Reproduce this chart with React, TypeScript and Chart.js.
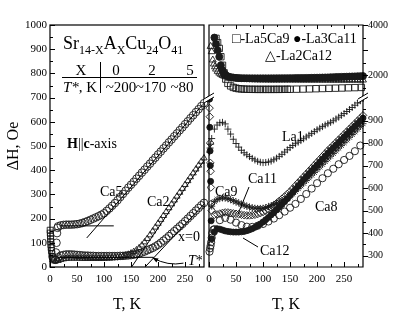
import React, { useEffect, useRef } from 'react';
import { Chart, registerables } from 'chart.js';

Chart.register(...registerables);

const FONT = '"Liberation Serif", "Times New Roman", Times, serif';
const INK = '#1a1a1a';

// ---------- shared temperature grid (K) ----------
const tGrid = [5,10,15,20,25,30,35,40,45,50,55,60,65,70,75,80,85,90,95,100,105,110,115,120,125,130,135,140,145,150,155,160,165,170,175,180,185,190,195,200,205,210,215,220,225,230,235,240,245,250,255,260,265,270,275,280,285];

// ---------- axis ticks ----------
const xLabelTicks = [0, 50, 100, 150, 200, 250];
const xMinorTicks = [25, 75, 125, 175, 225, 275];
const leftYTicks = [0, 100, 200, 300, 400, 500, 600, 700, 800, 900, 1000];
const leftYMinor = [50, 150, 250, 350, 450, 550, 650, 750, 850, 950];
const rbYTicks = [300, 400, 500, 600, 700, 800, 900];
const rbYMinor = [350, 450, 550, 650, 750, 850, 950];
const rtYTicks = [2000, 4000];
const rtYMarks = [2000, 3000, 4000];
const rtYMinor = [1500, 2500, 3500];

// ---------- left panel: Sr14-xCaxCu24O41 ----------
const ca5LowT = [0.3, 0.6, 0.9, 1.2, 1.5, 1.8, 2.2, 2.7, 3.5, 5, 7];
const ca5LowV = [152, 140, 128, 116, 104, 92, 80, 68, 55, 42, 30];

const ca5T = [10,11,12,13,14,15,20,25,30,35,40,45,50,55,60,65,70,75,80,85,90,95,100,105,110,115,120,125,130,135,140,145,150,155,160,165,170,175,180,185,190,195,200,205,210,215,220,225,230,235,240,245,250,255,260,265,270,275,280,285];
const ca5V = [30,60,100,140,162,
  168,172,174,175,175,175,176,177,179,182,
  186,190,195,200,205,210,216,222,232,242,
  253,264,276,289,302,315,328,340,352,365,
  377,390,402,415,427,440,452,465,477,490,
  502,515,527,540,552,565,577,590,602,615,
  627,640,652,665,677];

const ca2V = [30,24,26,30,33,35,36,36,36,36,
  36,35,35,35,35,35,35,35,35,35,
  36,36,37,38,39,41,44,48,52,57,
  63,70,79,90,103,117,132,148,164,180,
  196,212,228,244,260,276,292,308,324,340,
  356,372,388,404,420,436,450];

const x0V = [40,30,40,47,50,52,52,52,51,50,
  49,48,47,47,46,46,45,45,45,45,
  45,45,45,45,45,46,46,47,48,49,
  51,53,56,60,64,69,74,79,85,92,
  100,109,118,128,138,148,158,168,178,189,
  200,211,222,233,244,255,265];

// fit lines (T, dH)
const fitCa5Flat = [[20, 170], [118, 170]];
const fitCa5 = [[68, 120], [283, 672]];
const fitLowFlat = [[15, 40], [192, 40]];
const fitCa2 = [[151, 0], [285, 440]];
const fitX0 = [[176, 0], [285, 260]];
const arrowTail = [247, 16];
const arrowCtrl = [218, 3];
const arrowTip = [190, 38];

// ---------- right panel, lower segment ----------
const la1LowT = [1, 2, 3];
const la1LowV = [760, 778, 795];
const la1V = [820,862,880,890,892,885,862,840,817,798,
  782,768,757,748,740,732,725,719,715,713,
  714,716,720,726,733,741,750,760,770,780,
  789,797,804,811,819,827,835,843,851,859,
  866,873,880,886,892,899,907,915,923,931,
  940,949,958,968,978,988,998];

const ca8T = [1,2,3,4,5,6,8,10,20,30,40,50,60,70,80,90,100,110,120,130,140,150,160,170,180,190,200,210,220,230,240,250,260,270,280];
const ca8V = [318,333,345,360,380,400,415,418,458,468,460,447,436,429,428,433,441,452,465,480,496,513,530,552,574,598,622,644,666,686,706,725,743,764,789];

const ca12LowT = [1, 1.5, 2, 2.5, 3, 4];
const ca12LowV = [995, 870, 765, 700, 630, 455];
const ca12V = [375,405,420,418,414,410,408,406,405,405,
  405,406,408,411,415,420,426,433,441,450,
  460,470,481,492,503,515,527,540,553,568,
  582,596,610,624,638,651,664,677,690,703,
  716,729,742,755,767,779,791,803,815,827,
  839,851,863,875,887,899,911];

const ca11LowT = [1, 1.5, 2, 2.5, 3, 3.5, 4];
const ca11LowV = [955, 917, 800, 712, 675, 603, 530];
const ca11V = [500,482,483,487,490,492,492,490,488,486,
  484,482,480,479,479,480,482,485,489,494,
  500,507,515,524,533,543,553,563,574,585,
  598,611,624,637,650,663,676,689,702,715,
  728,741,754,767,779,791,803,815,827,839,
  851,863,875,887,899,911,923];

const ca9V = [520,540,550,555,557,556,553,549,544,539,
  534,529,524,520,516,513,511,510,510,511,
  514,518,522,527,532,538,544,550,556,562,
  574,586,598,610,622,634,646,658,670,682,
  694,706,718,730,742,754,766,778,790,802,
  814,826,838,850,862,874,886];

// ---------- right panel, upper segment ----------
const la3ca11T = [10,13,16,19,22,25,28,31,35,40,45,50,55,60,65,70,75,80,85,90,95,100,105,110,115,120,125,130,135,140,145,150,155,160,165,170,175,180,185,190,195,200,205,210,215,220,225,230,235,240,245,250,255,260,265,270,275,280,285];
const la3ca11V = [3500,3250,3000,2740,2400,2200,2080,2010,
  1960,1930,1912,1900,1893,1888,1885,1883,1882,1881,
  1880,1880,1880,1880,1880,1880,1881,1882,1883,1884,
  1885,1886,1887,1888,1889,1890,1891,1892,1894,1896,
  1898,1900,1903,1906,1909,1912,1915,1918,1922,1926,
  1930,1934,1938,1942,1946,1950,1954,1958,1962,1966,
  1970];

const la2ca12T = [3,5,7,9,11,13,16,19,22,25,28,31,35,40,45,50,55,60,65,70,75,80,85,90,95,100,105,110,115,120,125,130,135,140,145,150,155,160,165,170,175,180,185,190,195,200,205,210,215,220,225,230,235,240,245,250,255,260,265,270,275,280,285];
const la2ca12V = [3150,2940,2610,2450,2340,2250,2160,2090,2040,2000,1970,1945,
  1920,1895,1875,1862,1852,1845,1840,1836,1833,1830,
  1828,1826,1824,1823,1822,1821,1820,1820,1820,1820,
  1820,1820,1820,1820,1820,1819,1819,1818,1818,1818,
  1818,1817,1817,1817,1817,1816,1816,1816,1816,1815,
  1815,1815,1815,1815,1815,1815,1815,1815,1815,1815,
  1815];

const la5ca9T = [13,16,19,22,25,28,31,35,40,45,50,55,60,65,70,75,80,85,90,95,100,105,110,115,120,125,130,135,140,145,150,162,174,186,198,210,222,234,246,258,270,282];
const la5ca9V = [3470,3300,3070,2740,2400,2100,1850,
  1680,1580,1520,1490,1470,1460,1452,1448,1445,1444,
  1443,1442,1442,1442,1442,1442,1442,1442,1443,1443,
  1444,1445,1446,1447,
  1451,1455,1461,1469,1476,1483,1490,1497,1505,1512,1519];

// ---------- helpers ----------
const pts = (t: number[], v: number[]) => t.map((x, i) => ({ x, y: v[i] }));
const pairs = (p: number[][]) => p.map(([x, y]) => ({ x, y }));

function markers(data: any[], style: string, radius: number, filled: boolean) {
  return {
    data,
    showLine: false,
    pointStyle: style,
    pointRadius: radius,
    pointHoverRadius: radius,
    pointBorderColor: INK,
    pointBackgroundColor: filled ? INK : 'rgba(0,0,0,0)',
    pointBorderWidth: 0.9,
    clip: false,
  };
}
function fitLine(data: any[]) {
  return { data, showLine: true, borderColor: '#000', borderWidth: 1, pointRadius: 0, pointHoverRadius: 0, clip: false, fill: false };
}

function rich(ctx: any, parts: [string, string][], x: number, y: number, size: number) {
  for (const [txt, kind] of parts) {
    const sz = kind === 's' ? Math.round(size * 0.66) : size;
    const style = kind === 'b' ? 'bold ' : kind === 'i' ? 'italic ' : '';
    ctx.font = `${style}${sz}px ${FONT}`;
    const dy = kind === 's' ? size * 0.25 : 0;
    ctx.fillText(txt, x, y + dy);
    x += ctx.measureText(txt).width;
  }
}

function tickSet(ctx: any, vals: number[], fn: (v: number) => number[]) {
  vals.forEach(v => {
    const [x1, y1, x2, y2] = fn(v);
    ctx.moveTo(x1, y1);
    ctx.lineTo(x2, y2);
  });
}

const crisp = (p: number) => Math.round(p) + 0.5;
const plain = (v: any) => String(v);

const tickFont = { family: FONT, size: 11 };
const titleFont = { family: FONT, size: 16 };

// ---------- decorations ----------
const leftDeco = {
  id: 'leftDeco',
  afterDraw(chart: any) {
    const { ctx, chartArea: a, scales } = chart;
    const x = scales.x, y = scales.y;
    ctx.save();
    ctx.strokeStyle = '#000';
    ctx.lineWidth = 1.2;
    ctx.strokeRect(a.left, a.top, a.right - a.left, a.bottom - a.top);
    ctx.lineWidth = 1;
    ctx.beginPath();
    tickSet(ctx, xLabelTicks, v => { const p = crisp(x.getPixelForValue(v)); return [p, a.bottom, p, a.bottom - 5]; });
    tickSet(ctx, xMinorTicks, v => { const p = crisp(x.getPixelForValue(v)); return [p, a.bottom, p, a.bottom - 3]; });
    tickSet(ctx, leftYTicks, v => { const p = crisp(y.getPixelForValue(v)); return [a.left, p, a.left + 5, p]; });
    tickSet(ctx, leftYMinor, v => { const p = crisp(y.getPixelForValue(v)); return [a.left, p, a.left + 3, p]; });
    ctx.stroke();

    ctx.fillStyle = '#000';
    ctx.textBaseline = 'alphabetic';
    ctx.textAlign = 'left';
    rich(ctx, [['Sr', 'n'], ['14-X', 's'], ['A', 'n'], ['X', 's'], ['Cu', 'n'], ['24', 's'], ['O', 'n'], ['41', 's']], 63, 49, 18);

    // table
    ctx.font = `15px ${FONT}`;
    ctx.textAlign = 'center';
    ctx.fillText('X', 81, 75);
    ctx.fillText('0', 116, 75);
    ctx.fillText('2', 152, 75);
    ctx.fillText('5', 190, 75);
    ctx.fillText('~200', 121, 92);
    ctx.fillText('~170', 151, 92);
    ctx.fillText('~80', 182, 92);
    ctx.textAlign = 'left';
    rich(ctx, [['T*', 'i'], [', K', 'n']], 63, 92, 15);
    ctx.beginPath();
    ctx.moveTo(62, 77.5); ctx.lineTo(197, 77.5);
    ctx.moveTo(100.5, 62); ctx.lineTo(100.5, 93);
    ctx.stroke();

    rich(ctx, [['H', 'b'], ['||', 'n'], ['c', 'b'], ['-axis', 'n']], 67, 148, 14);

    ctx.font = `14px ${FONT}`;
    ctx.fillText('Ca5', 100, 196);
    ctx.fillText('Ca2', 147, 206);
    ctx.fillText('x=0', 178, 241);
    rich(ctx, [['T', 'i'], ['*', 'n']], 188, 265, 14);

    // T* arrow
    const tx = x.getPixelForValue(arrowTail[0]), ty = y.getPixelForValue(arrowTail[1]);
    const cx = x.getPixelForValue(arrowCtrl[0]), cy = y.getPixelForValue(arrowCtrl[1]);
    const ex = x.getPixelForValue(arrowTip[0]), ey = y.getPixelForValue(arrowTip[1]);
    ctx.beginPath();
    ctx.moveTo(tx, ty);
    ctx.quadraticCurveTo(cx, cy, ex, ey);
    ctx.stroke();
    const ang = Math.atan2(ey - cy, ex - cx);
    ctx.beginPath();
    ctx.moveTo(ex, ey);
    ctx.lineTo(ex - 6 * Math.cos(ang - 0.4), ey - 6 * Math.sin(ang - 0.4));
    ctx.lineTo(ex - 6 * Math.cos(ang + 0.4), ey - 6 * Math.sin(ang + 0.4));
    ctx.closePath();
    ctx.fill();
    ctx.restore();
  },
};

const rtDeco = {
  id: 'rtDeco',
  afterDraw(chart: any) {
    const { ctx, chartArea: a, scales } = chart;
    const x = scales.x, y = scales.y;
    ctx.save();
    ctx.strokeStyle = '#000';
    ctx.lineWidth = 1.2;
    ctx.beginPath();
    ctx.moveTo(a.left, a.bottom); ctx.lineTo(a.left, a.top); ctx.lineTo(a.right, a.top); ctx.lineTo(a.right, a.bottom);
    ctx.stroke();
    ctx.lineWidth = 1;
    ctx.beginPath();
    tickSet(ctx, xLabelTicks.slice(1), v => { const p = crisp(x.getPixelForValue(v)); return [p, a.top, p, a.top + 4]; });
    tickSet(ctx, xMinorTicks, v => { const p = crisp(x.getPixelForValue(v)); return [p, a.top, p, a.top + 2]; });
    tickSet(ctx, rtYMarks, v => { const p = crisp(y.getPixelForValue(v)); return [a.right, p, a.right + 5, p]; });
    tickSet(ctx, rtYMinor, v => { const p = crisp(y.getPixelForValue(v)); return [a.right, p, a.right + 3, p]; });
    ctx.stroke();
    ctx.fillStyle = '#000';
    ctx.textAlign = 'left';
    ctx.textBaseline = 'alphabetic';
    ctx.font = `14px ${FONT}`;
    ctx.fillText('\u25A1-La5Ca9 \u25CF-La3Ca11', 232, 43);
    ctx.fillText('\u25B3-La2Ca12', 265, 60);
    ctx.restore();
  },
};

const rbDeco = {
  id: 'rbDeco',
  afterDraw(chart: any) {
    const { ctx, chartArea: a, scales } = chart;
    const x = scales.x, y = scales.y;
    ctx.save();
    ctx.strokeStyle = '#000';
    ctx.lineWidth = 1.2;
    ctx.beginPath();
    ctx.moveTo(a.left, a.top); ctx.lineTo(a.left, a.bottom); ctx.lineTo(a.right, a.bottom); ctx.lineTo(a.right, a.top);
    ctx.stroke();
    ctx.lineWidth = 1;
    ctx.beginPath();
    tickSet(ctx, xLabelTicks, v => { const p = crisp(x.getPixelForValue(v)); return [p, a.bottom, p, a.bottom - 5]; });
    tickSet(ctx, xMinorTicks, v => { const p = crisp(x.getPixelForValue(v)); return [p, a.bottom, p, a.bottom - 3]; });
    tickSet(ctx, rbYTicks, v => { const p = crisp(y.getPixelForValue(v)); return [a.right, p, a.right + 5, p]; });
    tickSet(ctx, rbYMinor, v => { const p = crisp(y.getPixelForValue(v)); return [a.right, p, a.right + 3, p]; });
    ctx.stroke();

    // axis breaks
    for (const bx of [a.left, a.right]) {
      const t = a.top;
      ctx.fillStyle = '#fff';
      ctx.beginPath();
      ctx.moveTo(bx - 5, t + 1); ctx.lineTo(bx + 5, t - 5); ctx.lineTo(bx + 5, t - 1); ctx.lineTo(bx - 5, t + 5);
      ctx.closePath();
      ctx.fill();
      ctx.beginPath();
      ctx.moveTo(bx - 5, t + 1); ctx.lineTo(bx + 5, t - 5);
      ctx.moveTo(bx - 5, t + 5); ctx.lineTo(bx + 5, t - 1);
      ctx.stroke();
    }

    ctx.fillStyle = '#000';
    ctx.textAlign = 'left';
    ctx.textBaseline = 'alphabetic';
    ctx.font = `14px ${FONT}`;
    ctx.fillText('La1', 282, 141);
    ctx.fillText('Ca9', 215, 196);
    ctx.fillText('Ca11', 248, 183);
    ctx.fillText('Ca12', 260, 255);
    ctx.fillText('Ca8', 315, 211);
    ctx.beginPath();
    ctx.moveTo(249, 187); ctx.lineTo(238, 214);
    ctx.moveTo(258, 247); ctx.lineTo(243, 238);
    ctx.stroke();
    ctx.restore();
  },
};

const baseOptions = {
  responsive: false,
  animation: false as const,
  devicePixelRatio: 1,
  events: [] as any[],
  plugins: { legend: { display: false }, tooltip: { enabled: false } },
};

function xScale(showLabels: boolean, height: number) {
  return {
    type: 'linear',
    min: 0,
    max: 285,
    display: true,
    afterBuildTicks: (s: any) => { s.ticks = xLabelTicks.map(value => ({ value })); },
    ticks: { display: showLabels, font: tickFont, color: '#000', padding: 6, maxRotation: 0, autoSkip: false, callback: plain },
    grid: { display: false, drawTicks: false },
    border: { display: false },
    title: { display: showLabels, text: 'T, K', font: titleFont, color: '#000', padding: { top: 0, bottom: 0 } },
    afterFit: (s: any) => { s.height = height; },
  };
}

export default function App() {
  const leftRef = useRef<HTMLCanvasElement>(null);
  const rtRef = useRef<HTMLCanvasElement>(null);
  const rbRef = useRef<HTMLCanvasElement>(null);

  useEffect(() => {
    document.body.style.margin = '0';
    const left = new Chart(leftRef.current as HTMLCanvasElement, {
      type: 'scatter',
      data: {
        datasets: [
          fitLine(pairs(fitCa5Flat)),
          fitLine(pairs(fitCa5)),
          fitLine(pairs(fitLowFlat)),
          fitLine(pairs(fitCa2)),
          fitLine(pairs(fitX0)),
          markers(pts(ca5LowT, ca5LowV), 'rect', 4.2, false),
          markers(pts(ca5T, ca5V), 'circle', 3.8, false),
          markers(pts(tGrid, ca2V), 'triangle', 3.6, false),
          markers(pts(tGrid, x0V), 'circle', 3.8, false),
        ] as any,
      },
      options: {
        ...baseOptions,
        layout: { padding: { left: 0, right: 205, top: 25, bottom: 0 } },
        scales: {
          x: xScale(true, 47),
          y: {
            type: 'linear',
            min: 0,
            max: 1000,
            afterBuildTicks: (s: any) => { s.ticks = leftYTicks.map(value => ({ value })); },
            ticks: { font: tickFont, color: '#000', padding: 3, callback: plain },
            grid: { display: false, drawTicks: false },
            border: { display: false },
            title: { display: true, text: '\u0394H, Oe', font: titleFont, color: '#000', padding: { top: 4, bottom: 0 } },
            afterFit: (s: any) => { s.width = 50; },
          },
        } as any,
      } as any,
      plugins: [leftDeco],
    });

    const rt = new Chart(rtRef.current as HTMLCanvasElement, {
      type: 'scatter',
      data: {
        datasets: [
          markers(pts(la3ca11T, la3ca11V), 'circle', 3.5, true),
          markers(pts(la2ca12T, la2ca12V), 'triangle', 4, false),
          markers(pts(la5ca9T, la5ca9V), 'rect', 4.5, false),
        ] as any,
      },
      options: {
        ...baseOptions,
        layout: { padding: { left: 209, right: 0, top: 25, bottom: 216 } },
        scales: {
          x: xScale(false, 0),
          y: {
            type: 'linear',
            position: 'right',
            min: 1100,
            max: 4000,
            afterBuildTicks: (s: any) => { s.ticks = rtYTicks.map(value => ({ value })); },
            ticks: { font: { family: FONT, size: 10 }, color: '#000', padding: 5, callback: plain },
            grid: { display: false, drawTicks: false },
            border: { display: false },
            afterFit: (s: any) => { s.width = 46; },
          },
        } as any,
      } as any,
      plugins: [rtDeco],
    });

    const rb = new Chart(rbRef.current as HTMLCanvasElement, {
      type: 'scatter',
      data: {
        datasets: [
          markers(pts([...ca12LowT, ...tGrid], [...ca12LowV, ...ca12V]), 'circle', 3, true),
          markers(pts([...ca11LowT, ...tGrid], [...ca11LowV, ...ca11V]), 'rectRot', 3.8, false),
          markers(pts(tGrid, ca9V), 'star', 3.5, false),
          markers(pts(ca8T, ca8V), 'circle', 3.6, false),
          markers(pts([...la1LowT, ...tGrid], [...la1LowV, ...la1V]), 'cross', 3.5, false),
        ] as any,
      },
      options: {
        ...baseOptions,
        layout: { padding: { left: 209, right: 0, top: 98, bottom: 0 } },
        scales: {
          x: xScale(true, 47),
          y: {
            type: 'linear',
            position: 'right',
            min: 250,
            max: 1000,
            afterBuildTicks: (s: any) => { s.ticks = rbYTicks.map(value => ({ value })); },
            ticks: { font: { family: FONT, size: 10 }, color: '#000', padding: 5, callback: plain },
            grid: { display: false, drawTicks: false },
            border: { display: false },
            afterFit: (s: any) => { s.width = 46; },
          },
        } as any,
      } as any,
      plugins: [rbDeco],
    });

    return () => {
      left.destroy();
      rt.destroy();
      rb.destroy();
    };
  }, []);

  const cs: React.CSSProperties = { position: 'absolute', left: 0, top: 0, width: 409, height: 314 };
  return (
    <div style={{ position: 'fixed', left: 0, top: 0, width: 409, height: 314, background: '#fff' }}>
      <canvas ref={leftRef} width={409} height={314} style={cs} />
      <canvas ref={rtRef} width={409} height={314} style={cs} />
      <canvas ref={rbRef} width={409} height={314} style={cs} />
    </div>
  );
}
